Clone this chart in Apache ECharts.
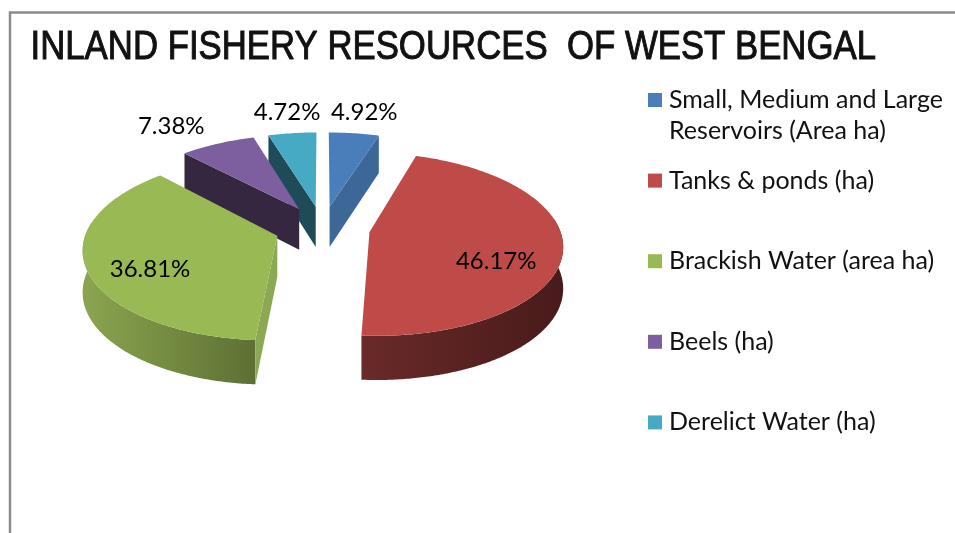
<!DOCTYPE html>
<html>
<head>
<meta charset="utf-8">
<style>html,body{margin:0;padding:0;background:#fff}#chart{width:955px;height:533px}</style>
<script src="https://cdn.jsdelivr.net/npm/echarts@6/dist/echarts.min.js"></script>
</head>
<body>
<div id="chart"></div>
<script>
// Inland fishery resources, share of total area (%)
const chartTitle = 'INLAND FISHERY RESOURCES  OF WEST BENGAL';
const categories = [
  'Small, Medium and Large\nReservoirs (Area ha)',
  'Tanks & ponds (ha)',
  'Brackish Water (area ha)',
  'Beels (ha)',
  'Derelict Water (ha)'
];
const shares = [4.92, 46.17, 36.81, 7.38, 4.72];
const topColors = ['#4a7ebb', '#be4b48', '#98b954', '#7d5fa0', '#46aac5'];
const sideColors = ['#3d6796', '#8ba852', '#8ba852', '#35273f', '#1f4b58'];
const rimColors = [['#3d6796', '#3d6796'], ['#6a2a29', '#481b1a'], ['#8ba54f', '#5d7033'], ['#35273f', '#35273f'], ['#1f4b58', '#1f4b58']];
// Painter's order: rear slices first
const paintOrder = [4, 0, 3, 1, 2];
// Label placement: distance from the pie centre in radii, then a pixel nudge
const labelRadius = [1.6, 0.66, 0.66, 1.6, 1.6];
const labelNudge = [[-2, 15.5], [0, 18], [-3, 13], [-4.5, 16], [6.5, 15.5]];

// Tilted disc projected with a mild perspective
const pie = { cx: 322.5, cy: 228, rx: 190, ry: 89, persp: 0.13, explode: 0.25 };
const total = shares.reduce((a, b) => a + b, 0);

function project(u, v) {
  const w = 1 - pie.persp * v;
  return [pie.cx + pie.rx * u / w, pie.cy + pie.ry * v / w];
}
const depthAt = v => 41 + 3 * v;

function sliceGeometry(i) {
  const before = shares.slice(0, i).reduce((a, b) => a + b, 0);
  const a0 = before / total * Math.PI * 2;
  const a1 = (before + shares[i]) / total * Math.PI * 2;
  const mid = (a0 + a1) / 2;
  const ox = pie.explode * Math.sin(mid);
  const oy = -pie.explode * Math.cos(mid);
  return { a0, a1, mid, ox, oy };
}

function drop(u, v) {
  const p = project(u, v);
  return [p[0], p[1] + depthAt(v)];
}

function renderSlice(i, params, api) {
  const g = sliceGeometry(i);
  const children = [];
  const steps = Math.max(6, Math.ceil((g.a1 - g.a0) * 60));
  const rim = t => [g.ox + Math.sin(t), g.oy - Math.cos(t)];

  // Curved outer wall, front half only
  const f0 = Math.max(g.a0, Math.PI * 0.45);
  const f1 = Math.min(g.a1, Math.PI * 1.55);
  if (f1 > f0) {
    const upper = [], lower = [];
    for (let s = 0; s <= steps; s++) {
      const p = rim(f0 + (f1 - f0) * s / steps);
      upper.push(project(p[0], p[1]));
      lower.unshift(drop(p[0], p[1]));
    }
    children.push({
      type: 'polygon', shape: { points: upper.concat(lower) },
      style: { fill: new echarts.graphic.LinearGradient(0, 0, 1, 0, [
        { offset: 0, color: rimColors[i][0] }, { offset: 1, color: rimColors[i][1] }
      ]) }
    });
  }

  // Flat side walls, only when they face the viewer
  const apex = project(g.ox, g.oy);
  const wall = (t, show) => {
    const p = rim(t);
    const end = project(p[0], p[1]);
    if (!show(end[0] - apex[0])) return;
    children.push({
      type: 'polygon',
      shape: { points: [apex, end, drop(p[0], p[1]), drop(g.ox, g.oy)] },
      style: { fill: sideColors[i] }
    });
  };
  wall(g.a0, dx => dx < -1);
  wall(g.a1, dx => dx > 1);

  // Top face
  const top = [apex];
  for (let s = 0; s <= steps; s++) {
    const p = rim(g.a0 + (g.a1 - g.a0) * s / steps);
    top.push(project(p[0], p[1]));
  }
  children.push({ type: 'polygon', shape: { points: top }, style: { fill: topColors[i] } });

  // Percentage label
  const r = labelRadius[i] + pie.explode;
  const at = project(r * Math.sin(g.mid), -r * Math.cos(g.mid));
  children.push({
    type: 'text', z2: 10,
    style: {
      x: at[0] + labelNudge[i][0], y: at[1] + labelNudge[i][1],
      text: api.value(0).toFixed(2) + '%',
      fill: '#000', font: '24px Lato', align: 'center', verticalAlign: 'middle'
    }
  });
  return { type: 'group', children };
}

const chart = echarts.init(document.getElementById('chart'), null, { renderer: 'canvas' });
chart.setOption({
  animation: false,
  backgroundColor: '#fff',
  legend: {
    orient: 'vertical', left: 643, top: 82,
    itemWidth: 14, itemHeight: 14, itemGap: 54.6,
    selectedMode: false,
    data: categories.map((name, i) => ({ name, icon: 'rect', itemStyle: { color: topColors[i] } })),
    formatter: name => name.split('\n')[0],
    textStyle: { fontFamily: 'Lato', fontSize: 25, color: '#111', lineHeight: 26, padding: [0, 0, 0, 2] }
  },
  graphic: [
    { type: 'polyline', silent: true, shape: { points: [[10, 533], [10, 12.5], [955, 12.5]] },
      style: { stroke: '#8a8a8a', lineWidth: 2.5, fill: null } },
    // Condensed heading
    { type: 'text', silent: true, x: 30.5, y: 48, scaleX: 0.848, originX: 0, originY: 0,
      style: { text: chartTitle, fill: '#111', stroke: '#111', lineWidth: 1,
        font: '41px "Liberation Sans"', verticalAlign: 'middle' } },
    { type: 'text', silent: true, left: 669, top: 118,
      style: { text: categories[0].split('\n')[1], fill: '#111', font: '25px Lato' } }
  ],
  series: paintOrder.map(i => ({
    type: 'custom',
    name: categories[i],
    coordinateSystem: 'none',
    z: 2 + paintOrder.indexOf(i),
    silent: true,
    itemStyle: { color: topColors[i] },
    data: [[shares[i]]],
    renderItem: (params, api) => renderSlice(i, params, api)
  }))
});
</script>
</body>
</html>
